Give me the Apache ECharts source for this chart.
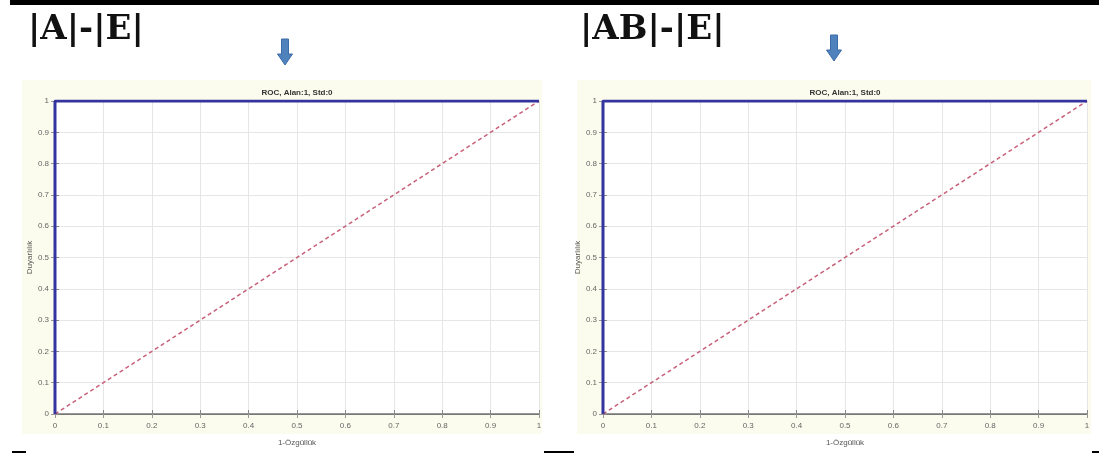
<!DOCTYPE html>
<html><head><meta charset="utf-8">
<script src="https://cdn.jsdelivr.net/npm/echarts@6/dist/echarts.min.js"></script>
<style>html,body{margin:0;padding:0;background:#fff}#c{width:1099px;height:453px}</style>
</head><body><div id="c"></div>
<script>
const panelTitles = ['|A|-|E|', '|AB|-|E|'];
const plotTitles = ['ROC, Alan:1, Std:0', 'ROC, Alan:1, Std:0'];
const xLabel = '1-Özgüllük';
const yLabel = 'Duyarlılık';
const tickValues = [0, 0.1, 0.2, 0.3, 0.4, 0.5, 0.6, 0.7, 0.8, 0.9, 1];
const rocX = [0, 0, 1];
const rocY = [0, 1, 1];
const diagX = [0, 1];
const diagY = [0, 1];

const chart = echarts.init(document.getElementById('c'), null, {renderer: 'canvas'});
const grids = [
  {left: 55, top: 101, width: 484, height: 313, show: true, backgroundColor: '#ffffff', borderWidth: 0},
  {left: 603, top: 101, width: 484, height: 313, show: true, backgroundColor: '#ffffff', borderWidth: 0}
];
const lblFmt = v => {
  const hit = tickValues.find(t => Math.abs(t - v) < 1e-9);
  return hit === undefined ? '' : String(hit);
};
const xAxes = [], yAxes = [], series = [];
grids.forEach((g, i) => {
  const base = {type: 'value', min: 0, max: 1, interval: 0.1, gridIndex: i};
  xAxes.push(Object.assign({}, base, {
    position: 'bottom', name: xLabel, nameLocation: 'middle', nameGap: 25,
    nameTextStyle: {fontSize: 8, color: '#555', fontFamily: 'Liberation Sans'},
    axisLine: {lineStyle: {color: '#777', width: 1.5}},
    axisTick: {inside: true, length: 4, lineStyle: {color: '#888'}},
    axisLabel: {fontSize: 8, color: '#666', margin: 8, formatter: lblFmt, fontFamily: 'Liberation Sans'},
    splitLine: {show: true, lineStyle: {color: '#e6e6e6', width: 1}}
  }));
  xAxes.push(Object.assign({}, base, {
    position: 'top', axisLine: {lineStyle: {color: '#777'}},
    axisTick: {inside: true, length: 4, lineStyle: {color: '#999'}},
    axisLabel: {show: false}, splitLine: {show: false}
  }));
  yAxes.push(Object.assign({}, base, {
    position: 'left', name: yLabel, nameLocation: 'middle', nameGap: 20, nameRotate: 90,
    nameTextStyle: {fontSize: 8, color: '#555', fontFamily: 'Liberation Sans'},
    axisLine: {lineStyle: {color: '#777', width: 1.5}},
    axisTick: {inside: true, length: 4, lineStyle: {color: '#888'}},
    axisLabel: {fontSize: 8, color: '#666', margin: 6, formatter: lblFmt, fontFamily: 'Liberation Sans'},
    splitLine: {show: true, lineStyle: {color: '#e6e6e6', width: 1}}
  }));
  yAxes.push(Object.assign({}, base, {
    position: 'right', axisLine: {lineStyle: {color: '#888'}},
    axisTick: {inside: true, length: 4, lineStyle: {color: '#999'}},
    axisLabel: {show: false}, splitLine: {show: false}
  }));
  series.push({
    type: 'line', xAxisIndex: i * 2, yAxisIndex: i * 2, showSymbol: false, symbol: 'none',
    data: diagX.map((x, k) => [x, diagY[k]]),
    lineStyle: {color: '#c8607a', width: 1.5, type: [4, 3]}, z: 3
  });
  series.push({
    type: 'line', xAxisIndex: i * 2, yAxisIndex: i * 2, showSymbol: false, symbol: 'none',
    data: rocX.map((x, k) => [x, rocY[k]]),
    lineStyle: {color: '#3434a0', width: 3}, z: 4
  });
});

function arrow(cx, top) {
  return {
    type: 'polygon', silent: true,
    shape: {points: [[cx - 3.5, top], [cx + 3.5, top], [cx + 3.5, top + 15], [cx + 7.5, top + 15],
                     [cx, top + 26], [cx - 7.5, top + 15], [cx - 3.5, top + 15]]},
    style: {fill: '#4f81bd', stroke: '#3d6da8', lineWidth: 1}
  };
}

chart.setOption({
  animation: false,
  backgroundColor: '#ffffff',
  grid: grids,
  xAxis: xAxes,
  yAxis: yAxes,
  series: series,
  graphic: [
    {type: 'rect', z: -10, shape: {x: 22, y: 80, width: 520, height: 354}, style: {fill: '#fcfcee'}},
    {type: 'rect', z: -10, shape: {x: 577, y: 80, width: 514, height: 354}, style: {fill: '#fcfcee'}},
    {type: 'rect', shape: {x: 10, y: 0, width: 1089, height: 5}, style: {fill: '#000'}},
    {type: 'rect', shape: {x: 12, y: 451, width: 14, height: 2}, style: {fill: '#000'}},
    {type: 'rect', shape: {x: 544, y: 451, width: 30, height: 2}, style: {fill: '#000'}},
    {type: 'rect', shape: {x: 1092, y: 451, width: 7, height: 2}, style: {fill: '#000'}},
    {type: 'text', left: 28, top: 13, style: {text: panelTitles[0], font: 'bold 34px "DejaVu Serif"', fill: '#111'}},
    {type: 'text', left: 580, top: 13, style: {text: panelTitles[1], font: 'bold 34px "DejaVu Serif"', fill: '#111'}},
    arrow(285, 39),
    arrow(834, 35),
    {type: 'text', x: 297, y: 93, style: {text: plotTitles[0], font: 'bold 8px "Liberation Sans"', fill: '#333', align: 'center', verticalAlign: 'middle'}},
    {type: 'text', x: 845, y: 93, style: {text: plotTitles[1], font: 'bold 8px "Liberation Sans"', fill: '#333', align: 'center', verticalAlign: 'middle'}}
  ]
});
</script></body></html>
